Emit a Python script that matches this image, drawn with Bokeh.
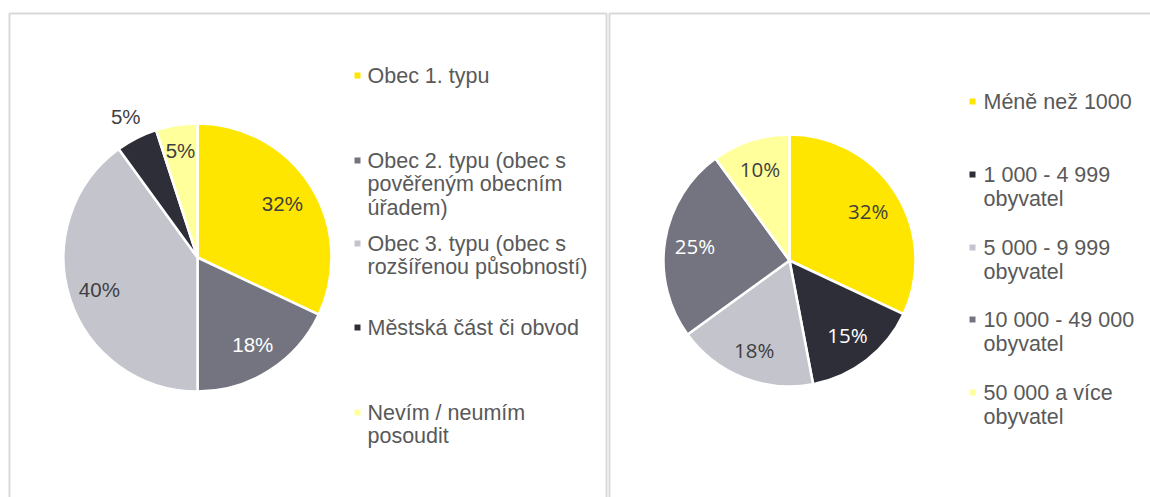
import numpy as np
from bokeh.plotting import figure
from bokeh.models import Range1d, ColumnDataSource
from bokeh.core.properties import value
from bokeh.embed import file_html
from bokeh.resources import INLINE

# ---------------- data ----------------
left_categories = ["Obec 1. typu",
                   "Obec 2. typu (obec s\npověřeným obecním\núřadem)",
                   "Obec 3. typu (obec s\nrozšířenou působností)",
                   "Městská část či obvod",
                   "Nevím / neumím\nposoudit"]
left_values = [32, 18, 40, 5, 5]

right_categories = ["Méně než 1000",
                    "1 000 - 4 999\nobyvatel",
                    "5 000 - 9 999\nobyvatel",
                    "10 000 - 49 000\nobyvatel",
                    "50 000 a více\nobyvatel"]
right_values = [32, 15, 18, 25, 10]

# ---------------- style ----------------
YEL, DGRAY, LGRAY, NAVY, PYEL = "#FFE600", "#747480", "#C4C4CD", "#2E2E38", "#FFFF9C"
left_colors = [YEL, DGRAY, LGRAY, NAVY, PYEL]
right_colors = [YEL, NAVY, LGRAY, DGRAY, PYEL]
left_label_colors = ["#3F3F3F", "white", "#3F3F3F", "#3F3F3F", "#3F3F3F"]
right_label_colors = ["#3F3F3F", "white", "#3F3F3F", "white", "#3F3F3F"]
left_label_r = [0.75, 0.77, 0.77, 1.18, 0.81]
right_label_r = [0.74, 0.75, 0.76, 0.76, 0.76]
TEXT = "#595959"
W, H = 1150, 497

p = figure(width=W, height=H, x_range=Range1d(0, W), y_range=Range1d(0, H),
           output_backend="svg", toolbar_location=None, min_border=0,
           outline_line_color=None, x_axis_location=None, y_axis_location=None)
p.grid.visible = False
p.background_fill_color = "white"
p.border_fill_color = "white"

def Y(ypage):
    return H - ypage

# panel borders
p.quad(left=[9], right=[606], top=[Y(13)], bottom=[-20], fill_color=None,
       line_color="#D9D9D9", line_width=2)
p.quad(left=[609], right=[1170], top=[Y(13)], bottom=[-20], fill_color=None,
       line_color="#D9D9D9", line_width=2)

def pie(values, colors, cx, cy, r, label_colors, label_r, font):
    v = np.array(values, dtype=float)
    frac = v / v.sum()
    cum = np.concatenate([[0], np.cumsum(frac)])
    start = np.pi / 2 - cum[1:] * 2 * np.pi
    end = np.pi / 2 - cum[:-1] * 2 * np.pi
    src = ColumnDataSource(dict(start=start, end=end, color=colors))
    p.wedge(x=cx, y=cy, radius=r, start_angle="start", end_angle="end",
            direction="anticlock", fill_color="color", line_color="white",
            line_width=2.5, source=src)
    mid = (start + end) / 2
    lr = np.array(label_r) * r
    lsrc = ColumnDataSource(dict(x=cx + lr * np.cos(mid), y=cy + lr * np.sin(mid),
                                 t=[f"{int(x)}%" for x in values], c=label_colors))
    p.text(x="x", y="y", text="t", text_color="c", source=lsrc, text_align="center",
           text_baseline="middle", text_font=value(font), text_font_size="20.5px")

pie(left_values, left_colors, 197, Y(257), 134, left_label_colors, left_label_r, "Liberation Sans")
pie(right_values, right_colors, 789, Y(260), 126, right_label_colors, right_label_r, "Open Sans")

def legend(categories, colors, mx, tx, ys, lh):
    p.scatter(x=[mx] * len(categories), y=[Y(y) for y in ys], marker="square", size=6,
              fill_color=colors, line_color=None)
    xs, yy, tt = [], [], []
    for cat, y0 in zip(categories, ys):
        for k, line in enumerate(cat.split("\n")):
            xs.append(tx)
            yy.append(Y(y0 + k * lh))
            tt.append(line)
    p.text(x=xs, y=yy, text=tt, text_align="left", text_baseline="middle",
           text_color=TEXT, text_font=value("Liberation Sans"), text_font_size="21.5px")

legend(left_categories, left_colors, 357, 367, [75, 160, 243, 327, 412], 23.7)
legend(right_categories, right_colors, 972, 983, [101, 174, 247, 319, 392], 24)

open("out.html", "w").write(file_html(p, INLINE))
